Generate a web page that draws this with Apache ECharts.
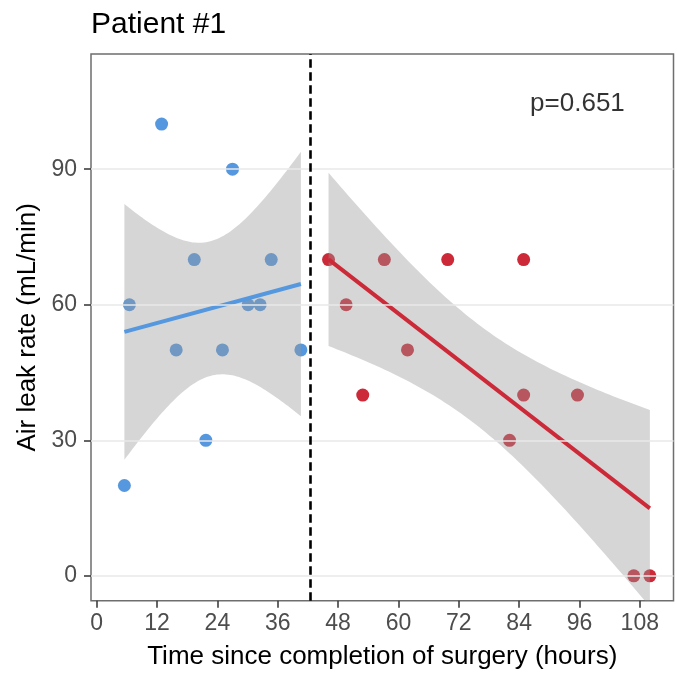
<!DOCTYPE html>
<html>
<head>
<meta charset="utf-8">
<title>Patient #1 — air leak rate</title>
<script src="https://cdn.jsdelivr.net/npm/echarts@6/dist/echarts.min.js"></script>
<style>
  html, body { margin: 0; padding: 0; background: #ffffff; }
  #chart { width: 677px; height: 673px; }
</style>
</head>
<body>
<div id="chart"></div>
<script>
// Observations before the cutoff (hours since surgery, air leak in mL/min)
const preHours  = [5.5, 6.5, 12.9, 15.8, 19.4, 21.7, 25.0, 27.0, 30.1, 32.5, 34.7, 40.6];
const preRates  = [20, 60, 100, 50, 70, 30, 50, 90, 60, 60, 70, 50];

// Observations after the cutoff
const postHours = [46.1, 49.6, 52.9, 57.2, 61.8, 69.8, 82.1, 84.9, 84.9, 95.6, 106.8, 110.0];
const postRates = [70, 60, 40, 70, 50, 70, 30, 70, 40, 40, 0, 0];

// Axis ticks
const xTicks = [0, 12, 24, 36, 48, 60, 72, 84, 96, 108];
const yTicks = [0, 30, 60, 90];

// Cutoff marker and annotation
const cutoffHour = 42.5;
const pText = 'p=0.651';
const pTextAt = [95.6, 104.5];

const preColor = '#5598df';
const postColor = '#cc2a38';
const FONT = 'Liberation Sans, Arial, Helvetica, sans-serif';

// two-sided 95% Student t quantiles, indexed by degrees of freedom
const T975 = [NaN, 12.706, 4.303, 3.182, 2.776, 2.571, 2.447, 2.365, 2.306, 2.262, 2.228,
  2.201, 2.179, 2.160, 2.145, 2.131, 2.120, 2.110, 2.101, 2.093, 2.086,
  2.080, 2.074, 2.069, 2.064, 2.060, 2.056, 2.052, 2.048, 2.045, 2.042];

// ordinary least squares line with its 95% confidence band
function linearFit(xs, ys, steps) {
  const n = xs.length;
  const mx = xs.reduce((a, b) => a + b, 0) / n;
  const my = ys.reduce((a, b) => a + b, 0) / n;
  let sxx = 0, sxy = 0;
  for (let i = 0; i < n; i++) {
    sxx += (xs[i] - mx) * (xs[i] - mx);
    sxy += (xs[i] - mx) * (ys[i] - my);
  }
  const slope = sxy / sxx;
  const icpt = my - slope * mx;
  let sse = 0;
  for (let i = 0; i < n; i++) {
    const r = ys[i] - (icpt + slope * xs[i]);
    sse += r * r;
  }
  const s = Math.sqrt(sse / (n - 2));
  const t = T975[Math.min(n - 2, 30)];
  const lo = Math.min(...xs), hi = Math.max(...xs);
  const upper = [], lower = [];
  for (let i = 0; i <= steps; i++) {
    const x = lo + (hi - lo) * i / steps;
    const f = icpt + slope * x;
    const se = s * Math.sqrt(1 / n + (x - mx) * (x - mx) / sxx);
    upper.push([x, f + t * se]);
    lower.push([x, f - t * se]);
  }
  return {
    line: [[lo, icpt + slope * lo], [hi, icpt + slope * hi]],
    upper, lower
  };
}

const preFit = linearFit(preHours, preRates, 80);
const postFit = linearFit(postHours, postRates, 80);

function zip(xs, ys) { return xs.map((x, i) => [x, ys[i]]); }

function bandSeries(fit, name) {
  const poly = fit.upper.concat(fit.lower.slice().reverse());
  return {
    name, type: 'custom', z: 3, clip: true, silent: true,
    data: [fit.line[0]],
    renderItem: function (params, api) {
      return {
        type: 'polygon',
        shape: { points: poly.map(p => api.coord(p)) },
        style: { fill: 'rgba(153,153,153,0.4)' }
      };
    }
  };
}

const chart = echarts.init(document.getElementById('chart'), null, { renderer: 'canvas' });

chart.setOption({
  animation: false,
  backgroundColor: '#ffffff',
  textStyle: { fontFamily: FONT },
  title: {
    text: 'Patient #1',
    left: 86, top: 5,
    textStyle: { fontFamily: FONT, fontSize: 30, fontWeight: 'normal', color: '#000000' }
  },
  grid: {
    left: 91, top: 54, right: 3.5, bottom: 72.3,
    show: true, borderColor: '#6e6e6e', borderWidth: 1.5,
    containLabel: false, outerBoundsMode: 'none'
  },
  xAxis: {
    type: 'value', min: -1.14, max: 114.7,
    axisLine: { show: false, onZero: false },
    splitLine: { show: false },
    axisTick: { show: true, inside: false, length: 7, customValues: xTicks, lineStyle: { color: '#333333', width: 1.5 } },
    axisLabel: { customValues: xTicks, fontSize: 23, color: '#4d4d4d', margin: 11, fontFamily: FONT },
    name: 'Time since completion of surgery (hours)',
    nameLocation: 'middle', nameGap: 43,
    nameTextStyle: { fontSize: 26, color: '#000000', fontFamily: FONT }
  },
  yAxis: {
    type: 'value', min: -5.5, max: 115.5,
    axisLine: { show: false, onZero: false },
    splitLine: { show: false },
    axisTick: { show: true, inside: false, length: 7, customValues: yTicks, lineStyle: { color: '#333333', width: 1.5 } },
    axisLabel: { customValues: yTicks, fontSize: 23, color: '#4d4d4d', margin: 14, fontFamily: FONT },
    name: 'Air leak rate (mL/min)',
    nameLocation: 'middle', nameGap: 41,
    nameTextStyle: { fontSize: 26, color: '#000000', fontFamily: FONT }
  },
  series: [
    {
      // horizontal reference lines and the cutoff marker
      name: 'guides', type: 'line', data: [], z: 1, silent: true,
      markLine: {
        silent: true, symbol: 'none', label: { show: false }, animation: false,
        data: yTicks.map(v => ({ yAxis: v, lineStyle: { color: '#e8e8e8', width: 1.6, type: 'solid' } }))
          .concat([{ xAxis: cutoffHour, lineStyle: { color: '#000000', width: 2.6, type: [8.5, 4.5] } }])
      }
    },
    {
      name: 'Before', type: 'scatter', z: 2, symbolSize: 13,
      data: zip(preHours, preRates),
      itemStyle: { color: preColor, opacity: 1 }
    },
    {
      name: 'After', type: 'scatter', z: 2, symbolSize: 13,
      data: zip(postHours, postRates),
      itemStyle: { color: postColor, opacity: 1 }
    },
    bandSeries(preFit, 'Before band'),
    bandSeries(postFit, 'After band'),
    {
      name: 'Before fit', type: 'line', z: 4, showSymbol: false, silent: true,
      data: preFit.line,
      lineStyle: { color: preColor, width: 4 }
    },
    {
      name: 'After fit', type: 'line', z: 4, showSymbol: false, silent: true,
      data: postFit.line,
      lineStyle: { color: postColor, width: 4 }
    },
    {
      name: 'p value', type: 'scatter', z: 5, symbolSize: 1, silent: true,
      itemStyle: { color: 'rgba(0,0,0,0)' },
      data: [pTextAt],
      label: {
        show: true, position: 'inside', formatter: pText,
        fontSize: 26, color: '#000000', fontFamily: FONT
      }
    }
  ]
});
</script>
</body>
</html>
